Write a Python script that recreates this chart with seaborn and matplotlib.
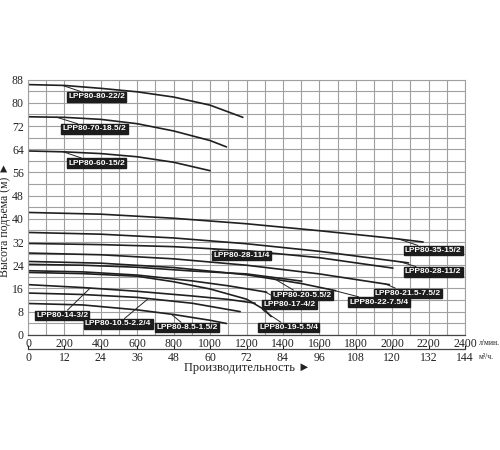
import pandas as pd
import matplotlib
matplotlib.use("Agg")
import matplotlib.pyplot as plt
import seaborn as sns

# Кривые насосов: производительность (л/мин) и напор (м)
models = [
    "LPP80-80-22/2", "LPP80-70-18.5/2", "LPP80-60-15/2",
    "LPP80-35-15/2", "LPP80-28-11/2", "LPP80-28-11/4",
    "LPP80-21.5-7.5/2", "LPP80-22-7.5/4", "LPP80-20-5.5/2",
    "LPP80-17-4/2", "LPP80-19-5.5/4", "LPP80-14-3/2",
    "LPP80-10.5-2.2/4", "LPP80-8.5-1.5/2",
]
flows = [
    [0, 200, 400, 600, 800, 1000, 1180],
    [0, 200, 400, 600, 800, 1000, 1090],
    [0, 200, 400, 600, 800, 1000],
    [0, 400, 800, 1200, 1600, 2000, 2170],
    [0, 400, 800, 1200, 1600, 2090],
    [0, 400, 800, 1200, 1600, 2004],
    [0, 400, 800, 1200, 1600, 1985],
    [0, 400, 800, 1200, 1500, 1690],
    [0, 300, 600, 900, 1200, 1504],
    [0, 300, 600, 900, 1100, 1311],
    [0, 300, 600, 800, 1000, 1200, 1300, 1335],
    [0, 300, 600, 900, 1100, 1247],
    [0, 300, 600, 900, 1165],
    [0, 300, 600, 800, 1000, 1090],
]
heads = [
    [86.3, 86.0, 85.0, 83.8, 82.0, 79.2, 75.0],
    [75.2, 75.0, 74.3, 72.8, 70.3, 67.0, 64.8],
    [63.4, 63.1, 62.5, 61.4, 59.5, 56.6],
    [42.2, 41.6, 40.2, 38.3, 35.9, 33.3, 32.0],
    [35.3, 34.7, 33.4, 31.4, 28.8, 24.8],
    [31.5, 31.1, 30.4, 29.0, 26.6, 23.0],
    [28.2, 27.6, 26.2, 24.0, 21.0, 17.3],
    [25.3, 24.7, 23.2, 20.7, 17.7, 15.2],
    [24.3, 24.0, 23.3, 22.0, 21.0, 18.5],
    [22.1, 21.7, 20.6, 18.6, 16.9, 14.7],
    [21.5, 21.1, 20.2, 18.3, 15.8, 12.3, 8.6, 6.3],
    [17.3, 16.3, 15.0, 13.4, 12.2, 10.9],
    [14.4, 13.9, 12.9, 10.9, 8.0],
    [10.8, 10.3, 8.6, 7.0, 5.0, 3.9],
]

# где подписи касаются кривых и где стоят плашки
label_anchor = [
    (190, 86.0), (154, 75.1), (194, 63.1),
    (2039, 33.0), (2043, 25.2), (1009, 29.7),
    (1960, 17.6), (1649, 15.8), (1338, 19.9),
    (1301, 14.8), (1292, 8.4), (341, 16.1),
    (661, 12.5), (789, 7.0),
]
label_box = [
    (220, 82.1), (190, 71.0), (221, 59.2),
    (2070, 29.0), (2070, 21.7), (1018, 27.3),
    (1905, 14.3), (1765, 11.3), (1344, 13.6),
    (1292, 10.4), (1270, 2.5), (44, 6.7),
    (313, 3.8), (707, 2.5),
]

rows = []
for name, q_list, h_list in zip(models, flows, heads):
    for q, h in zip(q_list, h_list):
        rows.append({"model": name, "Q": q, "H": h})
df = pd.DataFrame(rows)

sns.set_style("white")
plt.rcParams["font.family"] = ["Liberation Serif", "DejaVu Serif", "DejaVu Sans"]

fig = plt.figure(figsize=(5, 4.5), dpi=100)
ax = fig.add_axes([0.056, 0.256, 0.874, 0.567])

sns.lineplot(data=df, x="Q", y="H", units="model", estimator=None, sort=False,
             color="#202020", linewidth=1.2, ax=ax, legend=False)

ax.set_xlim(0, 2400)
ax.set_ylim(0, 88)
ax.set_xticks(range(0, 2401, 200))
ax.set_xticks(range(0, 2401, 100), minor=True)
ax.set_yticks(range(0, 89, 8))
ax.set_yticks(range(0, 89, 4), minor=True)
ax.grid(which="both", color="#a0a0a0", linewidth=0.8)
ax.tick_params(which="both", length=0, labelsize=8.5, pad=2, colors="#222222")
ax.tick_params(axis="y", pad=3)
ax.set_xlabel("")
ax.set_ylabel("")
for side in ["top", "right", "left"]:
    ax.spines[side].set_color("#a0a0a0")
    ax.spines[side].set_linewidth(0.8)
ax.spines["bottom"].set_color("#444444")
ax.spines["bottom"].set_linewidth(0.9)

sec = ax.secondary_xaxis(-0.055, functions=(lambda q: q * 0.06, lambda m: m / 0.06))
sec.set_xticks(range(0, 145, 12))
sec.tick_params(length=3, direction="in", labelsize=8.5, pad=2, colors="#222222")
sec.spines["bottom"].set_color("#444444")
sec.spines["bottom"].set_linewidth(0.9)

for name, xy, box in zip(models, label_anchor, label_box):
    ax.annotate(name, xy=xy, xytext=box, ha="left", va="center",
                fontsize=6, fontweight="bold", color="white",
                family=["Liberation Sans", "DejaVu Sans"],
                bbox=dict(boxstyle="square,pad=0.15", fc="#1c1c1c", ec="#1c1c1c"),
                arrowprops=dict(arrowstyle="-", color="#222222", lw=0.7,
                                shrinkA=0, shrinkB=0),
                annotation_clip=False)

fig.text(0.958, 0.238, "л/мин.", fontsize=5.5, ha="left", va="center", color="#222222")
fig.text(0.958, 0.207, "м³/ч.", fontsize=5.5, ha="left", va="center", color="#222222")
fig.text(0.495, 0.182, "Производительность ►", fontsize=9, ha="center", va="center",
         color="#222222")
fig.text(0.011, 0.511, "Высота подъёма (м) ►", fontsize=8.5, rotation=90,
         ha="center", va="center", color="#222222")

fig.savefig("out.png", dpi=100, facecolor="white")
